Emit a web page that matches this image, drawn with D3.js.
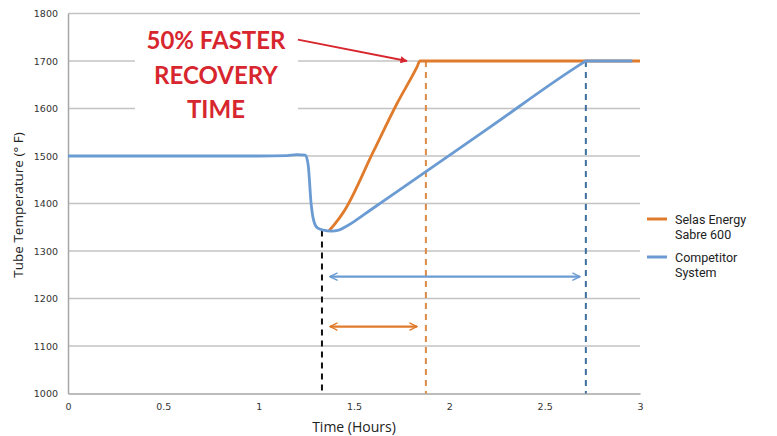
<!DOCTYPE html>
<html>
<head>
<meta charset="utf-8">
<script src="https://cdn.jsdelivr.net/npm/d3@7"></script>
<style>
  body { margin: 0; background: #fff; }
  svg { display: block; }
</style>
</head>
<body>
<div id="chart"></div>
<script>
// competitor system (blue)
var compTime = [0, 0.5, 1.0, 1.15, 1.20, 1.245, 1.26, 1.275, 1.29, 1.31, 1.34, 1.38, 1.42, 1.46, 1.50, 1.55, 1.60, 1.65, 2.2, 2.70, 2.716, 2.96];
var compTemp = [1500, 1500, 1500, 1501, 1503, 1502, 1480, 1400, 1362, 1348, 1344, 1342, 1344, 1352, 1362, 1376, 1390, 1404, 1557, 1696, 1700, 1700];
// selas energy sabre 600 (orange)
var selasTime = [1.37, 1.40, 1.45, 1.60, 1.725, 1.83, 1.846, 3.0];
var selasTemp = [1343, 1357, 1385, 1508, 1610, 1687, 1700, 1700];

var xTicks = [0, 0.5, 1, 1.5, 2, 2.5, 3];
var xTickLabels = ["0", "0.5", "1", "1.5", "2", "2.5", "3"];
var yTicks = [1000, 1100, 1200, 1300, 1400, 1500, 1600, 1700, 1800];

// markers: start of recovery, selas back at 1700, competitor back at 1700
var startT = 1.332, startTemp = 1343;
var selasDoneT = 1.877, compDoneT = 2.716, setPoint = 1700;
// span arrows
var compSpan = [1.374, 2.685], compSpanTemp = 1246;
var selasSpan = [1.374, 1.83], selasSpanTemp = 1141;

var calloutLines = ["50% FASTER", "RECOVERY", "TIME"];
var calloutTemps = [1725, 1652, 1580];
var seriesNames = [["Selas Energy", "Sabre 600"], ["Competitor", "System"]];

var width = 777, height = 436;
var orange = "#e07b2c", blue = "#6b9bd3", red = "#d7262e";

var svg = d3.select("#chart").append("svg")
    .attr("width", width)
    .attr("height", height);

var x = d3.scaleLinear().domain([0, 3]).range([68, 640]);
var y = d3.scaleLinear().domain([1000, 1800]).range([393.5, 13.5]);

var defs = svg.append("defs");
function chevron(id, color){
    defs.append("marker")
        .attr("id", id)
        .attr("viewBox", "0 0 10 10")
        .attr("refX", 9).attr("refY", 5)
        .attr("markerWidth", 4).attr("markerHeight", 4)
        .attr("markerUnits", "strokeWidth")
        .attr("orient", "auto-start-reverse")
        .append("path")
        .attr("d", "M1,1 L9,5 L1,9")
        .attr("fill", "none")
        .attr("stroke", color)
        .attr("stroke-width", 1.6)
        .attr("stroke-linecap", "round");
}
chevron("arrBlue", blue);
chevron("arrOrange", orange);
defs.append("marker")
    .attr("id", "arrRed")
    .attr("viewBox", "0 0 10 10")
    .attr("refX", 9).attr("refY", 5)
    .attr("markerWidth", 5).attr("markerHeight", 4)
    .attr("markerUnits", "strokeWidth")
    .attr("orient", "auto")
    .append("path")
    .attr("d", "M0,0 L10,5 L0,10 z")
    .attr("fill", red);

// gridlines
svg.append("g").selectAll("line")
    .data(yTicks.filter(d => d > 1000))
    .enter().append("line")
    .attr("x1", x(0)).attr("x2", x(3))
    .attr("y1", d => y(d)).attr("y2", d => y(d))
    .attr("stroke", "#c3c3c3")
    .attr("stroke-width", 1.5);

// axes
var xAxis = svg.append("g")
    .attr("transform", "translate(0," + y(1000) + ")")
    .call(d3.axisBottom(x).tickValues(xTicks).tickFormat((d, i) => xTickLabels[i]).tickSize(0).tickPadding(10));
var yAxis = svg.append("g")
    .attr("transform", "translate(" + x(0) + ",0)")
    .call(d3.axisLeft(y).tickValues(yTicks).tickFormat(d3.format("d")).tickSize(0).tickPadding(10));
[xAxis, yAxis].forEach(function(a){
    a.select(".domain").attr("stroke", "#a6a6a6").attr("stroke-width", 1.5);
    a.selectAll("text")
        .style("font-family", "DejaVu Sans, Verdana, sans-serif")
        .style("font-size", "9.5px")
        .attr("fill", "#333");
});

svg.append("text")
    .attr("x", (x(0) + x(3)) / 2)
    .attr("y", 432)
    .attr("text-anchor", "middle")
    .style("font-family", "Open Sans, sans-serif")
    .style("font-size", "14px")
    .attr("fill", "#222")
    .text("Time (Hours)");

svg.append("text")
    .attr("transform", "translate(23," + 205 + ") rotate(-90)")
    .attr("text-anchor", "middle")
    .style("font-family", "Open Sans, sans-serif")
    .style("font-size", "13.5px")
    .attr("fill", "#222")
    .text("Tube Temperature (° F)");

// white box behind the callout
svg.append("rect")
    .attr("x", x(0.351)).attr("y", y(1790))
    .attr("width", x(1.206) - x(0.351))
    .attr("height", y(1565) - y(1790))
    .attr("fill", "#fff");

// dashed marker lines
svg.append("line")
    .attr("x1", x(startT)).attr("x2", x(startT))
    .attr("y1", y(startTemp)).attr("y2", y(1000))
    .attr("stroke", "#111").attr("stroke-width", 2)
    .attr("stroke-dasharray", "6,5");
svg.append("line")
    .attr("x1", x(selasDoneT)).attr("x2", x(selasDoneT))
    .attr("y1", y(setPoint)).attr("y2", y(1000))
    .attr("stroke", "#d98b45").attr("stroke-width", 2)
    .attr("stroke-dasharray", "6,5");
svg.append("line")
    .attr("x1", x(compDoneT)).attr("x2", x(compDoneT))
    .attr("y1", y(setPoint)).attr("y2", y(1000))
    .attr("stroke", "#3e6f9e").attr("stroke-width", 2)
    .attr("stroke-dasharray", "6,5");

// series lines
var line = d3.line()
    .x(d => x(d[0]))
    .y(d => y(d[1]))
    .curve(d3.curveMonotoneX);

svg.append("path")
    .datum(d3.zip(selasTime, selasTemp))
    .attr("d", line)
    .attr("fill", "none")
    .attr("stroke", orange)
    .attr("stroke-width", 2.8);

svg.append("path")
    .datum(d3.zip(compTime, compTemp))
    .attr("d", line)
    .attr("fill", "none")
    .attr("stroke", blue)
    .attr("stroke-width", 2.8);

// span arrows
svg.append("line")
    .attr("x1", x(compSpan[0])).attr("x2", x(compSpan[1]))
    .attr("y1", y(compSpanTemp)).attr("y2", y(compSpanTemp))
    .attr("stroke", blue).attr("stroke-width", 2.2)
    .attr("marker-start", "url(#arrBlue)")
    .attr("marker-end", "url(#arrBlue)");
svg.append("line")
    .attr("x1", x(selasSpan[0])).attr("x2", x(selasSpan[1]))
    .attr("y1", y(selasSpanTemp)).attr("y2", y(selasSpanTemp))
    .attr("stroke", orange).attr("stroke-width", 2.2)
    .attr("marker-start", "url(#arrOrange)")
    .attr("marker-end", "url(#arrOrange)");

// callout
svg.append("g").selectAll("text")
    .data(calloutLines)
    .enter().append("text")
    .attr("x", x(0.776))
    .attr("y", (d, i) => y(calloutTemps[i]))
    .attr("text-anchor", "middle")
    .style("font-family", "Lato, sans-serif")
    .style("font-weight", "bold")
    .style("font-size", "24px")
    .attr("fill", red)
    .text(d => d);

svg.append("line")
    .attr("x1", x(1.206)).attr("y1", y(1745))
    .attr("x2", x(1.778)).attr("y2", y(1700))
    .attr("stroke", red).attr("stroke-width", 1.8)
    .attr("marker-end", "url(#arrRed)");

// legend
var legend = svg.append("g");
var legendRows = [{c: orange, y: 219}, {c: blue, y: 257}];
legendRows.forEach(function(r, i){
    legend.append("line")
        .attr("x1", 647).attr("x2", 667)
        .attr("y1", r.y).attr("y2", r.y)
        .attr("stroke", r.c).attr("stroke-width", 3);
    legend.selectAll(null)
        .data(seriesNames[i])
        .enter().append("text")
        .attr("x", 675)
        .attr("y", (d, j) => r.y + 5 + j * 15)
        .style("font-family", "Roboto, sans-serif")
        .style("font-size", "12.5px")
        .attr("fill", "#222")
        .text(d => d);
});
</script>
</body>
</html>
